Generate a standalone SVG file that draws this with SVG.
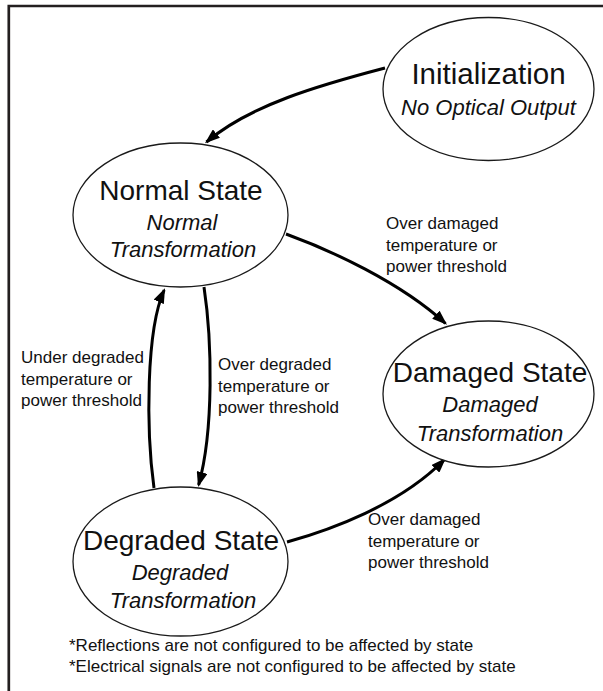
<svg xmlns="http://www.w3.org/2000/svg" width="603" height="691" viewBox="0 0 603 691">
  <defs>
    <style>
      .frame { fill: none; stroke: #231f20; stroke-width: 2.7; }
      .state ellipse { fill: #ffffff; stroke: #1a1a1a; stroke-width: 1.3; }
      .title { font-family: "Liberation Sans", Arial, sans-serif; font-size: 28px; fill: #111; text-anchor: middle; }
      .sub { font-family: "Liberation Sans", Arial, sans-serif; font-size: 22px; font-style: italic; fill: #111; text-anchor: middle; }
      .label { font-family: "Liberation Sans", Arial, sans-serif; font-size: 17px; fill: #111; }
      .edge { fill: none; stroke: #000; stroke-width: 3; }
    </style>
    <marker id="arrow" viewBox="0 0 15 11" markerWidth="15" markerHeight="11" refX="13" refY="5.5" orient="auto" markerUnits="userSpaceOnUse">
      <path d="M0,0 L15,5.5 L0,11 Z" fill="#000"/>
    </marker>
  </defs>

  <!-- outer frame (top and left edges) -->
  <path class="frame" d="M8.8,691 V6 H603"/>

  <!-- transitions -->
  <g id="connectors">
    <path class="edge" marker-end="url(#arrow)" d="M385,68 C320,85 250,105 206.5,142"/>
    <path class="edge" marker-end="url(#arrow)" d="M286,234 C330,250 400,282 445.5,323.5"/>
    <path class="edge" marker-end="url(#arrow)" d="M154,488 C146,430 146,330 164.2,290"/>
    <path class="edge" marker-end="url(#arrow)" d="M204,287 C212,340 214,430 198.6,485"/>
    <path class="edge" marker-end="url(#arrow)" d="M287,542 C330,530 400,505 444.5,459.5"/>
  </g>

  <g id="initialization" class="state">
    <ellipse cx="488.5" cy="89" rx="105.5" ry="71.5"/>
    <text class="title" x="488.5" y="84" style="font-size:29.5px">Initialization</text>
    <text class="sub" x="488.5" y="115">No Optical Output</text>
  </g>

  <g id="normal" class="state">
    <ellipse cx="180.5" cy="215" rx="107.5" ry="72"/>
    <text class="title" x="181" y="200">Normal State</text>
    <text class="sub" x="182" y="230">Normal</text>
    <text class="sub" x="183" y="257">Transformation</text>
  </g>

  <g id="damaged" class="state">
    <ellipse cx="488.5" cy="394" rx="105.5" ry="73"/>
    <text class="title" x="490" y="382">Damaged State</text>
    <text class="sub" x="490" y="412">Damaged</text>
    <text class="sub" x="490" y="441">Transformation</text>
  </g>

  <g id="degraded" class="state">
    <ellipse cx="180.5" cy="561.5" rx="107.5" ry="74.5"/>
    <text class="title" x="181" y="550">Degraded State</text>
    <text class="sub" x="180" y="580">Degraded</text>
    <text class="sub" x="183" y="608">Transformation</text>
  </g>

  <!-- transition conditions -->
  <g id="labels">
    <text class="label" x="386" y="229">Over damaged<tspan x="386" dy="21.5">temperature or</tspan><tspan x="386" dy="21.5">power threshold</tspan></text>
    <text class="label" x="21" y="363">Under degraded<tspan x="21" dy="21.5">temperature or</tspan><tspan x="21" dy="21.5">power threshold</tspan></text>
    <text class="label" x="218" y="370">Over degraded<tspan x="218" dy="21.5">temperature or</tspan><tspan x="218" dy="21.5">power threshold</tspan></text>
    <text class="label" x="368" y="525">Over damaged<tspan x="368" dy="21.5">temperature or</tspan><tspan x="368" dy="21.5">power threshold</tspan></text>
  </g>

  <!-- notes -->
  <g id="notes">
    <text class="label" x="69" y="651">*Reflections are not configured to be affected by state</text>
    <text class="label" x="69" y="672">*Electrical signals are not configured to be affected by state</text>
  </g>
</svg>
